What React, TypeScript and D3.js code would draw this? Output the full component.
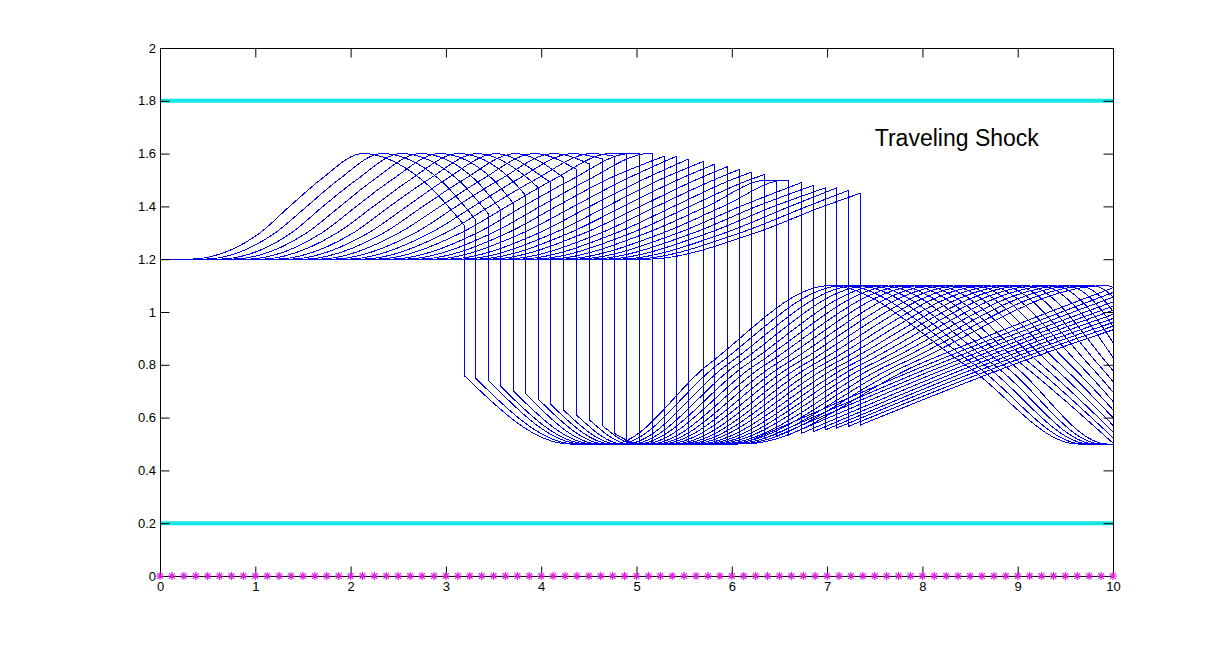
import { useEffect, useRef } from "react"
import * as d3 from "d3"

// snapshot curves, one entry per time step (33 snapshots)
const shockX = [3.19, 3.31, 3.45, 3.57, 3.71, 3.84, 3.97, 4.1, 4.23, 4.37, 4.51, 4.64, 4.77, 4.9, 5.03, 5.17, 5.29, 5.42, 5.55, 5.7, 5.82, 5.95, 6.08, 6.21, 6.34, 6.47, 6.6, 6.73, 6.86, 6.98, 7.1, 7.22, 7.35]
const shockTop = [1.33, 1.35, 1.37, 1.39, 1.41, 1.44, 1.47, 1.49, 1.51, 1.54, 1.56, 1.58, 1.59, 1.6, 1.6, 1.6, 1.59, 1.59, 1.58, 1.57, 1.56, 1.55, 1.54, 1.53, 1.52, 1.5, 1.5, 1.49, 1.48, 1.47, 1.47, 1.46, 1.45]
const shockBottom = [0.76, 0.75, 0.74, 0.72, 0.7, 0.69, 0.67, 0.65, 0.63, 0.61, 0.59, 0.57, 0.54, 0.51, 0.5, 0.5, 0.5, 0.5, 0.5, 0.5, 0.5, 0.5, 0.505, 0.515, 0.52, 0.53, 0.535, 0.54, 0.547, 0.553, 0.56, 0.566, 0.572]

// left hump: where each curve leaves 1.2, passes 1.3 / 1.4 / 1.5, tops out at 1.6, falls back to 1.5
const riseFoot = [0.3, 0.45, 0.6, 0.75, 0.9, 1.05, 1.2, 1.35, 1.5, 1.65, 1.8, 1.95, 2.1, 2.25, 2.4, 2.55, 2.7, 2.85, 3.0, 3.15, 3.3, 3.45, 3.6, 3.75, 3.9, 4.05, 4.2, 4.35, 4.5, 4.65, 4.8, 4.95, 5.1]
const riseAt13 = [1.05, 1.21, 1.38, 1.54, 1.7, 1.86, 2.03, 2.19, 2.35, 2.51, 2.68, 2.84, 3.0, 3.16, 3.33, 3.49, 3.65, 3.81, 3.98, 4.14, 4.3, 4.46, 4.63, 4.79, 4.95, 5.11, 5.28, 5.44, 5.6, 5.76, 5.93, 6.09, 6.25]
const riseAt14 = [1.36, 1.54, 1.71, 1.89, 2.06, 2.24, 2.41, 2.59, 2.76, 2.94, 3.11, 3.29, 3.46, 3.64, 3.81, 3.99, 4.16, 4.34, 4.51, 4.69, 4.86, 5.04, 5.21, 5.39, 5.56, 5.74, 5.91, 6.09, 6.26, 6.44, 6.61, 6.79, 6.96]
const riseAt15 = [1.68, 1.87, 2.06, 2.24, 2.43, 2.62, 2.81, 2.99, 3.18, 3.37, 3.56, 3.74, 3.93, 4.12, 4.31, 4.49, 4.68, 4.87, 5.06, 5.24, 5.43, 5.62, 5.81, 5.99, 6.18, 6.37, 6.56, 6.74, 6.93, 7.12, 7.31, 7.49, 7.68]
const peakAt16 = [2.13, 2.33, 2.53, 2.73, 2.93, 3.13, 3.33, 3.53, 3.73, 3.93, 4.13, 4.33, 4.53, 4.73, 4.93, 5.13, 5.33, 5.53, 5.73, 5.93, 6.13, 6.33, 6.53, 6.73, 6.93, 7.13, 7.33, 7.53, 7.73, 7.93, 8.13, 8.33, 8.53]
const fallAt15 = [2.75, 2.94, 3.13, 3.31, 3.5, 3.69, 3.88, 4.06, null, null, null, null, null, null, null, null, null, null, null, null, null, null, null, null, null, null, null, null, null, null, null, null, null]

// right side: valley at 0.5, hump up to 1.1, back to 0.5
const valleyIn = [4.3, 4.36, 4.43, 4.49, 4.55, 4.61, 4.68, 4.74, 4.8, 4.86, 4.93, 4.99, 5.05, 5.11, 5.18, 5.24, 5.3, null, null, null, null, null, null, null, null, null, null, null, null, null, null, null, null]
const valleyOut = [4.75, 4.81, 4.88, 4.94, 5.0, 5.06, 5.13, 5.19, 5.25, 5.31, 5.38, 5.44, 5.5, 5.56, 5.63, 5.69, 5.75, 5.81, 5.88, 5.94, 6.0, 6.06, 6.13, null, null, null, null, null, null, null, null, null, null]
const riseAt08 = [5.75, 5.85, 5.95, 6.05, 6.15, 6.25, 6.35, 6.45, 6.55, 6.65, 6.75, 6.85, 6.95, 7.05, 7.15, 7.25, 7.35, 7.45, 7.55, 7.65, 7.75, 7.85, 7.95, 8.05, 8.15, 8.25, 8.35, 8.45, 8.55, 8.65, 8.75, 8.85, 8.95]
const peakAt11 = [7.03, 7.17, 7.31, 7.44, 7.58, 7.72, 7.86, 7.99, 8.13, 8.27, 8.41, 8.54, 8.68, 8.82, 8.96, 9.09, 9.23, 9.37, 9.51, 9.64, 9.78, 9.92, 10.06, 10.19, 10.33, 10.47, 10.61, 10.74, 10.88, 11.02, 11.16, 11.29, 11.43]
const fallAt08 = [8.45, 8.55, 8.65, 8.75, 8.85, 8.95, 9.05, 9.15, 9.25, 9.35, 9.45, 9.55, 9.65, 9.75, 9.85, 9.95, 10.05, 10.15, 10.25, 10.35, 10.45, 10.55, null, null, null, null, null, null, null, null, null, null, null]
const fallEnd = [9.63, 9.69, 9.76, 9.82, 9.88, 9.94, 10.01, 10.07, 10.13, 10.19, 10.26, 10.32, 10.38, 10.44, 10.51, 10.57, null, null, null, null, null, null, null, null, null, null, null, null, null, null, null, null, null]

const boundLevels = [1.8, 0.2]
const markerX = [0, 0.125, 0.25, 0.375, 0.5, 0.625, 0.75, 0.875, 1, 1.125, 1.25, 1.375, 1.5, 1.625, 1.75, 1.875, 2, 2.125, 2.25, 2.375, 2.5, 2.625, 2.75, 2.875, 3, 3.125, 3.25, 3.375, 3.5, 3.625, 3.75, 3.875, 4, 4.125, 4.25, 4.375, 4.5, 4.625, 4.75, 4.875, 5, 5.125, 5.25, 5.375, 5.5, 5.625, 5.75, 5.875, 6, 6.125, 6.25, 6.375, 6.5, 6.625, 6.75, 6.875, 7, 7.125, 7.25, 7.375, 7.5, 7.625, 7.75, 7.875, 8, 8.125, 8.25, 8.375, 8.5, 8.625, 8.75, 8.875, 9, 9.125, 9.25, 9.375, 9.5, 9.625, 9.75, 9.875, 10]

const xTicks = [0, 1, 2, 3, 4, 5, 6, 7, 8, 9, 10]
const yTicks = [0, 0.2, 0.4, 0.6, 0.8, 1, 1.2, 1.4, 1.6, 1.8, 2]

const FONT = "'Liberation Sans', Arial, sans-serif"

const App = () => {
  const svgRef = useRef<SVGSVGElement>(null)

  useEffect(() => {
    const svg = d3.select(svgRef.current)
    svg.selectAll("*").remove()

    const left = 160, right = 1113, top = 48, bottom = 576

    const x = d3.scaleLinear().domain([0, 10]).range([left, right])
    const y = d3.scaleLinear().domain([0, 2]).range([bottom, top])

    svg.append("defs").append("clipPath").attr("id", "plot-clip")
      .append("rect")
      .attr("x", left).attr("y", top)
      .attr("width", right - left).attr("height", bottom - top)

    const plot = svg.append("g").attr("clip-path", "url(#plot-clip)")

    const line = d3.line<[number, number]>()
      .x((d) => x(d[0]))
      .y((d) => y(d[1]))
      .curve(d3.curveMonotoneX)

    // keep knots in increasing x, stop once past the right edge
    const tidy = (pts: [number | null, number][]) => {
      const out: [number, number][] = []
      for (const [px, py] of pts) {
        if (px == null) continue
        if (out.length && px <= out[out.length - 1][0]) continue
        out.push([px, py])
        if (px >= 10) break
      }
      return out
    }

    shockX.forEach((sx, i) => {
      const leftPts = tidy([
        [0, 1.2],
        [riseFoot[i], 1.2],
        [riseAt13[i], 1.3],
        [riseAt14[i], 1.4],
        [riseAt15[i], 1.5],
        [peakAt16[i], 1.6],
        [fallAt15[i], 1.5],
      ].filter((p) => p[0] != null && (p[0] as number) < sx) as [number, number][])
      leftPts.push([sx, shockTop[i]])

      const rightPts = tidy([
        [sx, shockBottom[i]],
        [valleyIn[i], 0.5],
        [valleyOut[i], 0.5],
        [riseAt08[i], 0.8],
        [peakAt11[i], 1.1],
        [fallAt08[i], 0.8],
        [fallEnd[i], 0.5],
        [10, 0.5],
      ])

      const d = (line(leftPts) || "") + (line(rightPts) || "").replace(/^M/, "L")

      plot.append("path")
        .attr("d", d)
        .attr("fill", "none")
        .attr("stroke", "#0000f0")
        .attr("stroke-width", 1)
        .attr("shape-rendering", "crispEdges")
    })

    // cyan bounds
    boundLevels.forEach((lv) => {
      plot.append("line")
        .attr("x1", x(0)).attr("x2", x(10))
        .attr("y1", y(lv)).attr("y2", y(lv))
        .attr("stroke", "#14e6e6")
        .attr("stroke-width", 4)
    })

    // axes, ticks pointing inward like matlab
    const styleAxis = (g: d3.Selection<SVGGElement, unknown, null, undefined>) => {
      g.attr("font-family", FONT).attr("font-size", 13)
      g.selectAll("text").attr("fill", "#000")
      g.selectAll("line, path").attr("stroke", "#000")
    }

    svg.append("g")
      .attr("transform", `translate(0,${bottom})`)
      .call(d3.axisBottom(x).tickValues(xTicks).tickSizeInner(-9.5).tickSizeOuter(0).tickPadding(6).tickFormat(d3.format("~g")))
      .call(styleAxis)

    svg.append("g")
      .attr("transform", `translate(0,${top})`)
      .call(d3.axisTop(x).tickValues(xTicks).tickSizeInner(-9.5).tickSizeOuter(0).tickFormat(() => ""))
      .call(styleAxis)

    svg.append("g")
      .attr("transform", `translate(${left},0)`)
      .call(d3.axisLeft(y).tickValues(yTicks).tickSizeInner(-9.5).tickSizeOuter(0).tickPadding(4).tickFormat(d3.format("~g")))
      .call(styleAxis)

    svg.append("g")
      .attr("transform", `translate(${right},0)`)
      .call(d3.axisRight(y).tickValues(yTicks).tickSizeInner(-9.5).tickSizeOuter(0).tickFormat(() => ""))
      .call(styleAxis)

    // magenta star markers along y = 0
    const r = 4
    const k = r * 0.72
    svg.append("g")
      .selectAll("path")
      .data(markerX)
      .enter()
      .append("path")
      .attr("d", (d) => {
        const cx = x(d), cy = y(0)
        return `M${cx - r},${cy}L${cx + r},${cy}M${cx},${cy - r}L${cx},${cy + r}` +
          `M${cx - k},${cy - k}L${cx + k},${cy + k}M${cx - k},${cy + k}L${cx + k},${cy - k}`
      })
      .attr("fill", "none")
      .attr("stroke", "#e01ee0")
      .attr("stroke-width", 1.2)

    svg.append("text")
      .attr("x", x(7.5))
      .attr("y", y(1.65))
      .attr("dominant-baseline", "middle")
      .attr("font-family", FONT)
      .attr("font-size", 23)
      .attr("fill", "#000")
      .text("Traveling Shock")
  }, [])

  return (
    <svg
      ref={svgRef}
      width={1230}
      height={648}
      style={{ position: "absolute", left: 0, top: 0, background: "#fff" }}
    />
  )
}

export default App
